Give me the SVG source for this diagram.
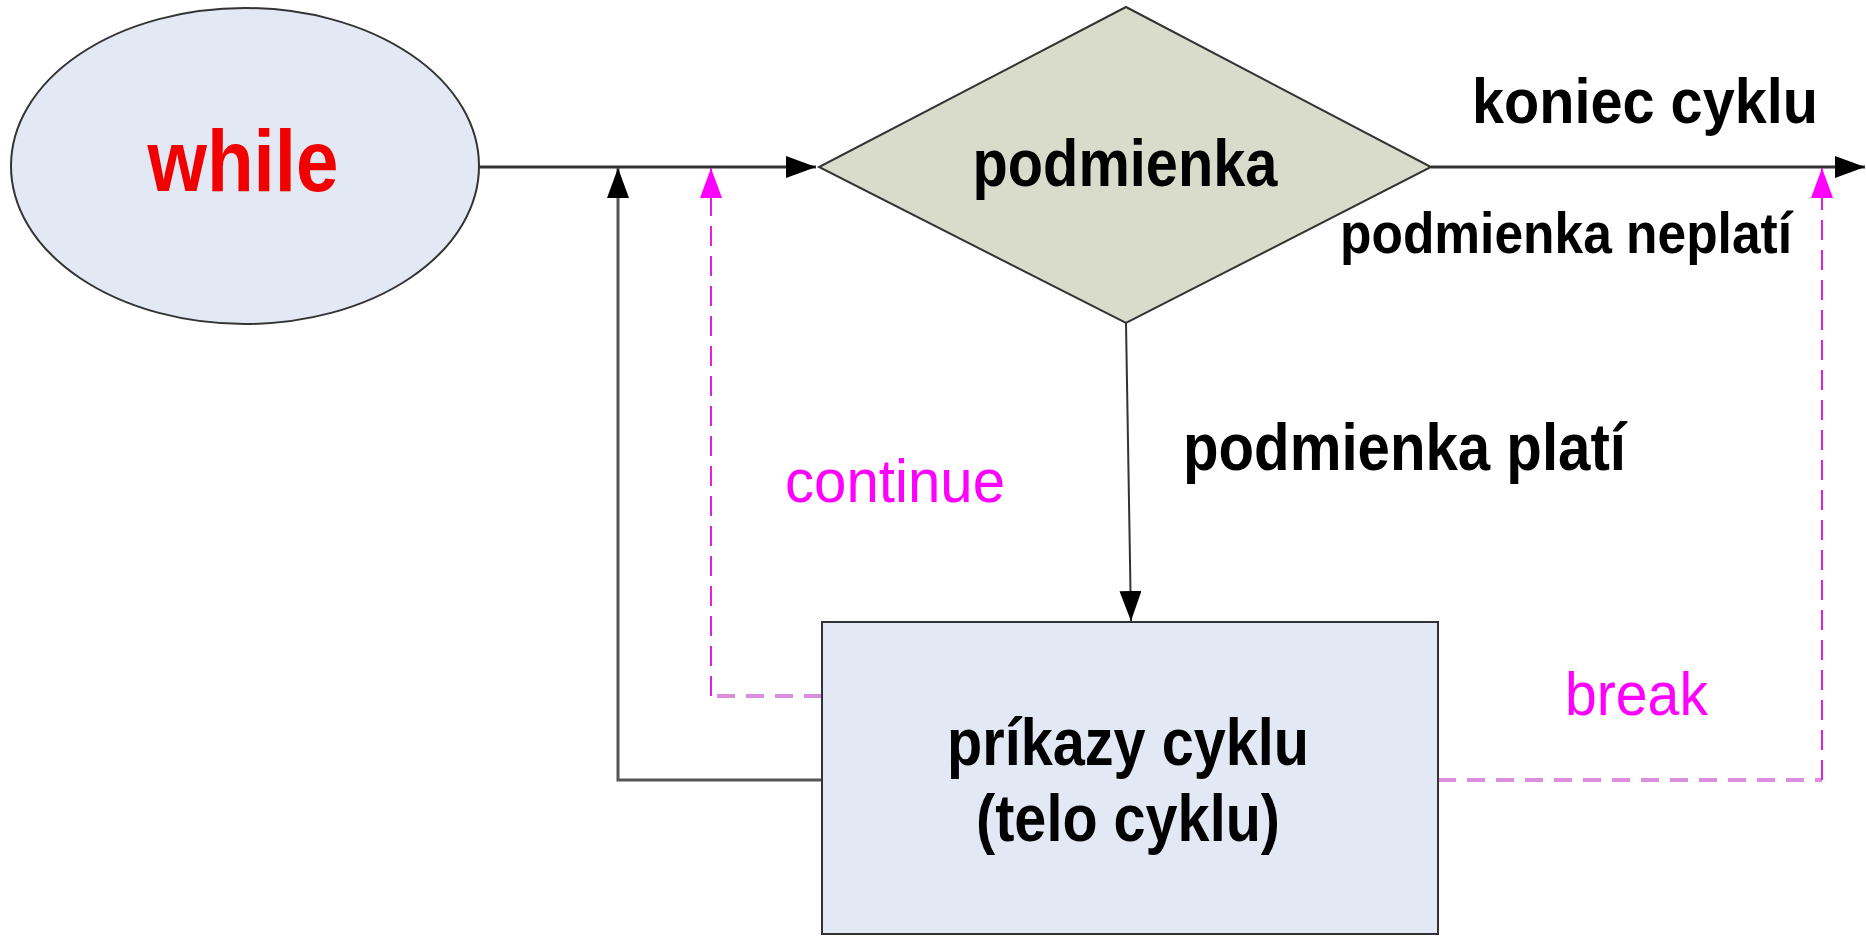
<svg xmlns="http://www.w3.org/2000/svg" width="1866" height="938" viewBox="0 0 1866 938">
  <style>
    .bold { font-family: "Liberation Sans", Arial, sans-serif; font-weight: bold; fill: #000; }
    .reg { font-family: "Liberation Sans", Arial, sans-serif; font-weight: normal; fill: #ff00ff; }
    .shape { stroke: #333; stroke-width: 2; }
    .flow { fill: none; stroke: #333; stroke-width: 3; }
    .jump-h { fill: none; stroke: #dc8ede; stroke-width: 4; stroke-dasharray: 18 11; }
    .jump-v { fill: none; stroke: #e020e0; stroke-width: 2; stroke-dasharray: 20 10; }
  </style>
  <defs>
    <marker id="arrow" viewBox="0 0 30 22" refX="30" refY="11" markerWidth="30" markerHeight="22" markerUnits="userSpaceOnUse" orient="auto">
      <path d="M0,0 L30,11 L0,22 z" fill="#000"/>
    </marker>
    <marker id="arrow-jump" viewBox="0 0 30 22" refX="30" refY="11" markerWidth="30" markerHeight="22" markerUnits="userSpaceOnUse" orient="auto">
      <path d="M0,0 L30,11 L0,22 z" fill="#ff00ff"/>
    </marker>
  </defs>

  <rect width="1866" height="938" fill="#fff"/>

  <!-- connectors -->
  <g id="connectors">
    <path id="start-to-cond" class="flow" d="M479,167 H816" marker-end="url(#arrow)"/>
    <path id="cond-to-end" class="flow" d="M1431,167 H1865" marker-end="url(#arrow)"/>
    <path id="cond-to-body" class="flow" style="stroke-width:2" d="M1126,323 L1131,621" marker-end="url(#arrow)"/>
    <path id="body-loop" class="flow" style="stroke:#555" d="M822,780 H618 V168" marker-end="url(#arrow)"/>
    <path id="continue-h" class="jump-h" d="M822,696 H711"/>
    <path id="continue-v" class="jump-v" d="M711,696 V168" marker-end="url(#arrow-jump)"/>
    <path id="break-h" class="jump-h" d="M1438,780 H1822"/>
    <path id="break-v" class="jump-v" d="M1822,780 V168" marker-end="url(#arrow-jump)"/>
  </g>

  <!-- start node -->
  <g id="node-while">
    <ellipse class="shape" cx="245" cy="166" rx="234" ry="158" fill="#e3e9f4"/>
    <text x="243" y="191" font-size="88" text-anchor="middle" textLength="191" lengthAdjust="spacingAndGlyphs" style="font-family:'Liberation Sans', Arial, sans-serif; font-weight:bold; fill:#f20000">while</text>
  </g>

  <!-- decision node -->
  <g id="node-condition">
    <polygon class="shape" points="1126,7 1431,167 1126,323 819,167" fill="#d9dccb"/>
    <text class="bold" x="1125" y="186" font-size="66" text-anchor="middle" textLength="305" lengthAdjust="spacingAndGlyphs">podmienka</text>
  </g>

  <!-- loop body node -->
  <g id="node-body">
    <rect class="shape" x="822" y="622" width="616" height="312" fill="#e3e9f4"/>
    <text class="bold" x="1128" y="765" font-size="66" text-anchor="middle" textLength="362" lengthAdjust="spacingAndGlyphs">príkazy cyklu</text>
    <text class="bold" x="1128" y="841" font-size="66" text-anchor="middle" textLength="304" lengthAdjust="spacingAndGlyphs">(telo cyklu)</text>
  </g>

  <!-- edge labels -->
  <g id="labels">
    <text class="bold" x="1472" y="123" font-size="63" textLength="346" lengthAdjust="spacingAndGlyphs">koniec cyklu</text>
    <text class="bold" x="1340" y="253" font-size="58" textLength="452" lengthAdjust="spacingAndGlyphs">podmienka neplatí</text>
    <text class="bold" x="1183" y="470" font-size="66" textLength="443" lengthAdjust="spacingAndGlyphs">podmienka platí</text>
    <text class="reg" x="785" y="502" font-size="62" textLength="220" lengthAdjust="spacingAndGlyphs">continue</text>
    <text class="reg" x="1565" y="715" font-size="62" textLength="143" lengthAdjust="spacingAndGlyphs">break</text>
  </g>
</svg>
